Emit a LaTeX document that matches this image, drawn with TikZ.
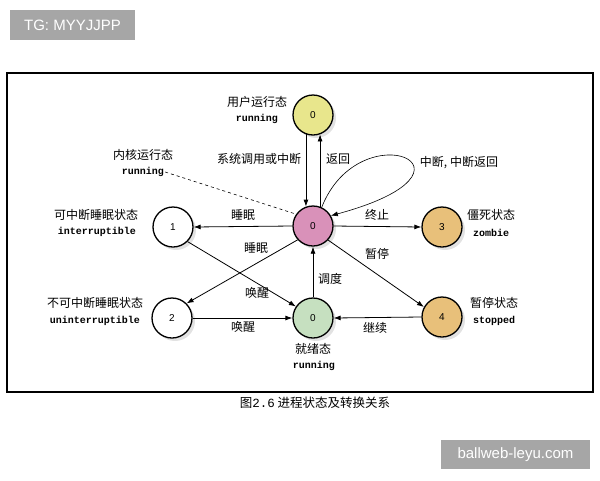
\documentclass[tikz,border=0pt]{standalone}
\usepackage{fontspec}
\setmainfont{Liberation Sans}
\newfontfamily\cjk{Noto Sans CJK SC}
\newfontfamily\monofont{Liberation Mono}
\usepackage{tikz}
\usetikzlibrary{arrows.meta,shadows}

\definecolor{userfill}{RGB}{232,230,140}
\definecolor{kernfill}{RGB}{217,145,185}
\definecolor{readyfill}{RGB}{198,224,192}
\definecolor{haltfill}{RGB}{232,192,122}
\definecolor{markgray}{RGB}{166,166,166}

\begin{document}
\begin{tikzpicture}[x=1pt,y=-1pt,
    state/.style={circle,draw,line width=1.3pt,minimum size=40pt,inner sep=0pt,
      font=\fontsize{10}{10}\selectfont,
      drop shadow={shadow xshift=3pt,shadow yshift=-3pt,fill=gray!45}},
    cn/.style={font=\cjk\fontsize{12}{12}\selectfont,inner sep=1pt},
    en/.style={font=\monofont\bfseries\fontsize{10}{10}\selectfont,inner sep=1pt},
    arr/.style={-{Latex[length=7pt,width=5pt]},line width=0.8pt}]
  \useasboundingbox (0,0) rectangle (600,480);

  % watermarks
  \node[fill=markgray,text=white,minimum width=125pt,minimum height=30pt,
    font=\fontsize{15}{15}\selectfont] (tag) at (72.5,25) {TG: MYYJJPP};
  \node[fill=markgray,text=white,minimum width=149pt,minimum height=29pt,
    font=\fontsize{15}{15}\selectfont] (site) at (515.5,454.5) {ballweb-leyu.com};

  % frame and caption
  \draw[line width=1.1pt] (7,73) rectangle (593,392);
  \node[font=\cjk\fontsize{12.5}{12.5}\selectfont] (cap) at (315,403)
    {图{\monofont 2.6} 进程状态及转换关系};

  % states
  \node[state,fill=userfill] (usr) at (313,115) {0};
  \node[state,fill=kernfill] (krn) at (313,226) {0};
  \node[state,fill=white] (intr) at (173,227) {1};
  \node[state,fill=white] (unin) at (172,318) {2};
  \node[state,fill=readyfill] (rdy) at (313,318) {0};
  \node[state,fill=haltfill] (zmb) at (442,227) {3};
  \node[state,fill=haltfill] (stp) at (442,317) {4};

  % state names
  \node[cn] (usrA) at (257,102) {用户运行态};
  \node[en] (usrB) at (257,119) {running};
  \node[cn] (krnA) at (143,155) {内核运行态};
  \node[en] (krnB) at (143,172) {running};
  \node[cn] (intrA) at (96,215) {可中断睡眠状态};
  \node[en] (intrB) at (97,232) {interruptible};
  \node[cn] (uninA) at (95,303) {不可中断睡眠状态};
  \node[en] (uninB) at (95,321) {uninterruptible};
  \node[cn] (zmbA) at (491,215) {僵死状态};
  \node[en] (zmbB) at (491,233) {zombie};
  \node[cn] (stpA) at (494,303) {暂停状态};
  \node[en] (stpB) at (494,321) {stopped};
  \node[cn] (rdyA) at (313,349) {就绪态};
  \node[en] (rdyB) at (314,366) {running};

  % transitions
  \draw[arr] (usr.-110) -- (krn.110);
  \draw[arr] (krn.70) -- (usr.-70);
  \draw[dashed,line width=0.6pt] (krnB.east) -- (krn.145);
  \draw[arr,line width=0.6pt] (krn.65) .. controls (360,110) and (500,170) .. (krn.30);
  \draw[arr] (krn.west) -- (intr.east);
  \draw[arr] (krn.-138) -- (unin.45);
  \draw[arr] (intr.-45) -- (rdy.146);
  \draw[arr] (unin.east) -- (rdy.west);
  \draw[arr] (rdy.north) -- (krn.south);
  \draw[arr] (krn.east) -- (zmb.west);
  \draw[arr] (krn.-43) -- (stp.151);
  \draw[arr] (stp.west) -- (rdy.east);

  % transition labels
  \node[cn] (lSys) at (259,159) {系统调用或中断};
  \node[cn] (lRet) at (338,159) {返回};
  \node[cn] (lIrq) at (459,163) {中断, 中断返回};
  \node[cn] (lSlpA) at (243,215) {睡眠};
  \node[cn] (lSlpB) at (256,248) {睡眠};
  \node[cn] (lWakA) at (257,293) {唤醒};
  \node[cn] (lWakB) at (243,327) {唤醒};
  \node[cn] (lSch) at (330,279) {调度};
  \node[cn] (lEnd) at (377,215) {终止};
  \node[cn] (lPau) at (377,254) {暂停};
  \node[cn] (lCon) at (375,328) {继续};
\end{tikzpicture}
\end{document}
